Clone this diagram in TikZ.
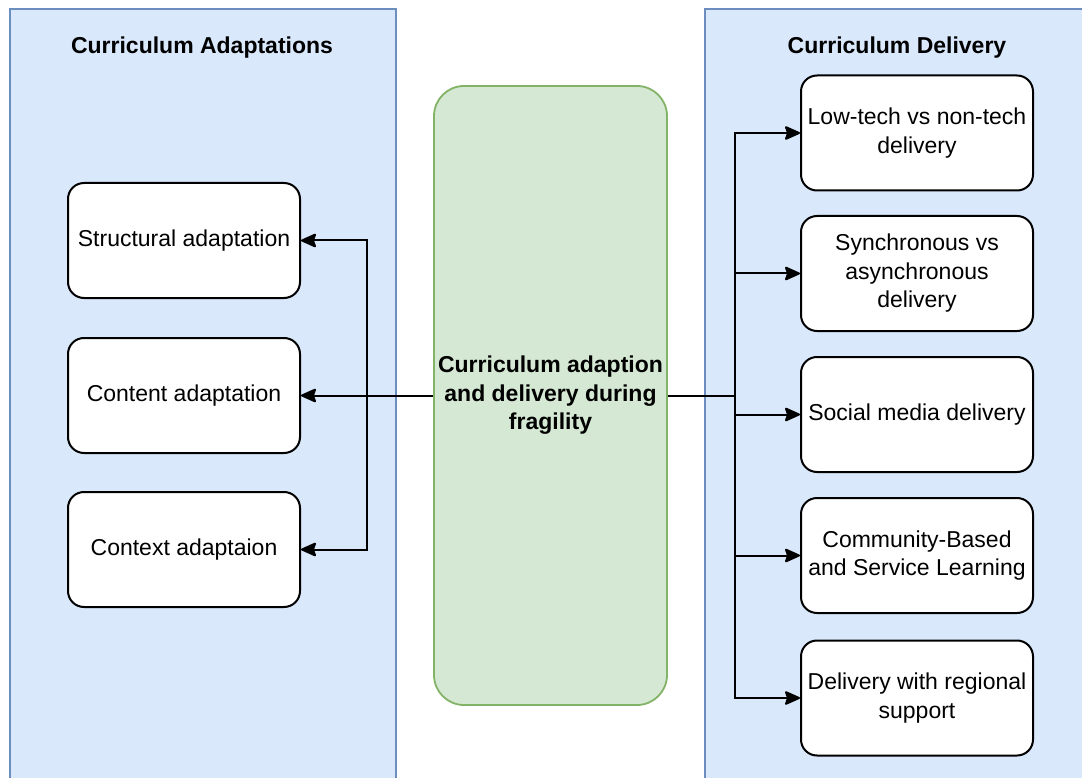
\documentclass[tikz,border=0pt]{standalone}
\usepackage{fontspec}
\setmainfont{Liberation Sans}
\usetikzlibrary{arrows.meta}
\definecolor{panelfill}{HTML}{DAE8FC}
\definecolor{panelline}{HTML}{6C8EBF}
\definecolor{corefill}{HTML}{D5E8D4}
\definecolor{coreline}{HTML}{82B366}
\begin{document}
\begin{tikzpicture}[x=1pt,y=-1pt,
  panel/.style={draw=panelline, fill=panelfill, line width=1.3pt},
  title/.style={font=\fontsize{23}{28}\selectfont\bfseries, inner sep=0pt},
  item/.style={draw=black, fill=white, rounded corners=16pt, line width=2pt,
    minimum width=232pt, minimum height=115pt, align=center, inner sep=0pt,
    font=\fontsize{23}{28.5}\selectfont},
  core/.style={draw=coreline, fill=corefill, rounded corners=30pt, line width=1.8pt,
    minimum width=233pt, minimum height=619pt, align=center, inner sep=0pt,
    font=\fontsize{23}{28.5}\selectfont\bfseries},
  link/.style={line width=2pt},
  conn/.style={line width=2pt, -{Stealth[length=17pt,width=15pt,inset=2.5pt,round]}}
]
\clip (0,0) rectangle (1082,778);
\fill[white] (0,0) rectangle (1082,778);
% panels
\path[panel] (10,9) rectangle (396,800);
\path[panel] (705,9) rectangle (1100,800);
\node[title] (tL) at (202,47.5) {Curriculum Adaptations};
\node[title] (tR) at (897,47.5) {Curriculum Delivery};
% core
\node[core] (core) at (550.5,395.5) {Curriculum adaption\\and delivery during\\fragility};
% left items
\node[item] (struct) at (184,240.5) {Structural adaptation};
\node[item] (cont) at (184,395.5) {Content adaptation};
\node[item] (ctx) at (184,549.5) {Context adaptaion};
% right items
\node[item] (r1) at (917,133) {Low-tech vs non-tech\\delivery};
\node[item] (r2) at (917,273.5) {Synchronous vs\\asynchronous\\delivery};
\node[item] (r3) at (917,414.5) {Social media delivery};
\node[item] (r4) at (917,555.5) {Community-Based\\and Service Learning};
\node[item] (r5) at (917,698) {Delivery with regional\\support};
% connectors
\coordinate (lbus) at (367,395.5);
\coordinate (rbus) at (735,395.5);
\draw[conn] (core.west) -- (cont.east);
\draw[conn] (lbus) |- (struct.east);
\draw[conn] (lbus) |- (ctx.east);
\draw[link] (core.east) -- (rbus);
\draw[conn] (rbus) |- (r1.west);
\draw[conn] (rbus) |- (r2.west);
\draw[conn] (rbus) |- (r3.west);
\draw[conn] (rbus) |- (r4.west);
\draw[conn] (rbus) |- (r5.west);
\end{tikzpicture}
\end{document}
